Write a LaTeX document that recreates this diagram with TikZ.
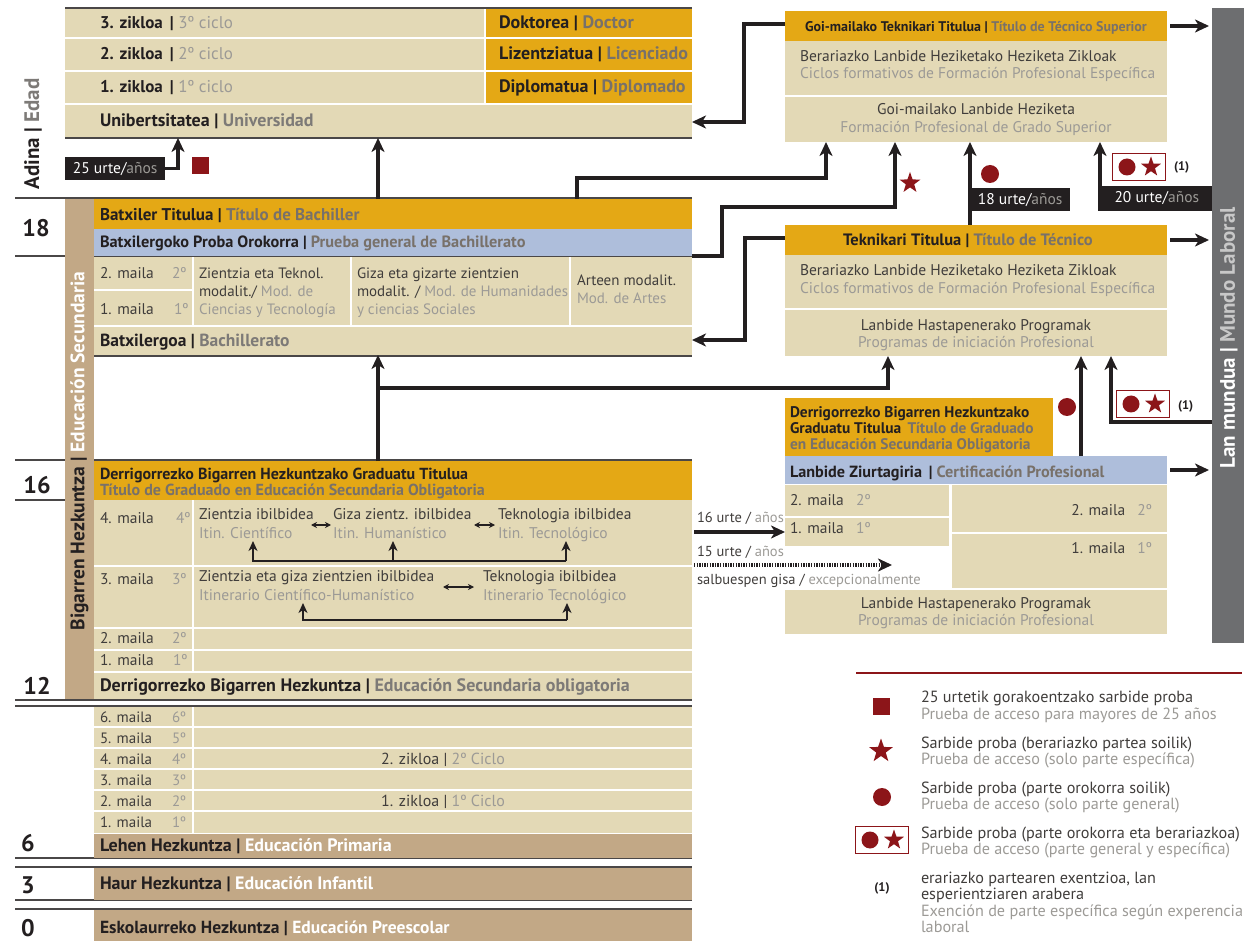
\documentclass[tikz,border=0pt]{standalone}
\usepackage{fontspec}
\setmainfont{PT Sans}
\usetikzlibrary{arrows.meta,fit,shapes.geometric}
\definecolor{tanc}{HTML}{E3D9B6}
\definecolor{goldc}{HTML}{E4A815}
\definecolor{bluec}{HTML}{AEBEDB}
\definecolor{brownc}{HTML}{C2A886}
\definecolor{darkc}{HTML}{231F20}
\definecolor{textc}{HTML}{403D3B}
\definecolor{greyt}{HTML}{9C9A96}
\definecolor{greyb}{HTML}{7D7A77}
\definecolor{goldgrey}{HTML}{78716A}
\definecolor{redc}{HTML}{8C1519}
\definecolor{barc}{HTML}{6D6E70}
\definecolor{barlight}{HTML}{C8C8C8}
\definecolor{linec}{HTML}{4A4747}
\newcommand\esg[1]{\textcolor{greyt}{#1}}
\newcommand\esgb[1]{\textcolor{greyb}{#1}}
\newcommand\esgo[1]{\textcolor{goldgrey}{#1}}
\newcommand\blk[6]{\node[inner sep=0pt, outer sep=0pt, fill=#6, fit={(#2,#3) (#4,#5)}] (#1) {};}
\begin{document}
\begin{tikzpicture}[x=1pt, y=-1pt,
 tx/.style={anchor=west, inner sep=0pt, outer sep=0pt, text height=10.8pt, text depth=0pt, font=\fontsize{15.5}{17}\selectfont, text=textc},
 bx/.style={tx, font=\fontsize{16}{18}\selectfont\bfseries, text=darkc, text height=11.2pt},
 sz/.style={font=\fontsize{#1}{#1}\selectfont},
 bsz/.style={font=\fontsize{#1}{#1}\selectfont\bfseries},
 sx/.style={tx, font=\fontsize{14.5}{16}\selectfont, text height=10pt},
 px/.style={tx, font=\fontsize{15}{16}\selectfont, text height=10.5pt},
 num/.style={inner sep=0pt, font=\fontsize{24}{25}\selectfont\bfseries, text=darkc},
 dl/.style={draw=linec, line width=1.4pt},
 wl/.style={draw=white, line width=2pt},
 conn/.style={draw=darkc, line width=3.2pt, -{Stealth[length=14pt,width=13pt,inset=4pt]}},
 conns/.style={draw=darkc, line width=2pt, -{Stealth[length=10pt,width=9pt,inset=3pt]}},
 dbl/.style={draw=darkc, line width=1.6pt, {Stealth[length=6pt,width=6pt]}-{Stealth[length=6pt,width=6pt]}},
 dotconn/.style={draw=darkc, line width=3.5pt, dash pattern=on 1.3pt off 1.3pt, -{Stealth[length=14pt,width=13pt,inset=4pt]}},
 blackbox/.style={fill=darkc, inner sep=0pt, minimum height=23pt, font=\fontsize{15.5}{17}\selectfont, text=white},
 rdot/.style={circle, fill=redc, minimum size=18pt, inner sep=0pt},
 rstar/.style={star, star points=5, star point ratio=2.5, fill=redc, minimum size=22pt, inner sep=0pt},
 rsq/.style={fill=redc, minimum size=17pt, inner sep=0pt},
 rbox/.style={draw=redc, line width=1.2pt, fill=white, minimum width=53pt, minimum height=27pt, inner sep=0pt},
 vt/.style={rotate=90, inner sep=0pt, font=\fontsize{21}{22}\selectfont\bfseries},
 small1/.style={bx, font=\fontsize{12.5}{13}\selectfont\bfseries, text height=8.8pt},
 lgt/.style={tx, sz=16.2}
]
\useasboundingbox (0,0) rectangle (1254,941);

% ---------------- University
\blk{uni}{65}{8}{692}{138}{tanc}
\blk{unig}{485}{8}{692}{104}{goldc}
\draw[wl] (65,38)--(692,38) (65,71)--(692,71) (65,104)--(692,104) (485,8)--(485,104);
\draw[dl] (65,8)--(692,8) (65,138)--(692,138);
\node[tx, sz=17] (u3) at (100,23) {\textbf{\textcolor{darkc}{3. zikloa\, |}} \esg{3º ciclo}};
\node[tx, sz=17] (u2) at (100,54) {\textbf{\textcolor{darkc}{2. zikloa\, |}} \esg{2º ciclo}};
\node[tx, sz=17] (u1) at (100,87) {\textbf{\textcolor{darkc}{1. zikloa\, |}} \esg{1º ciclo}};
\node[bx, bsz=18] (u0) at (100,121) {Unibertsitatea | \esgb{Universidad}};
\node[bx, bsz=18] (dok) at (499,23) {Doktorea | \esgo{Doctor}};
\node[bx, bsz=18] (liz) at (499,54) {Lizentziatua | \esgo{Licenciado}};
\node[bx, bsz=18] (dip) at (499,87) {Diplomatua | \esgo{Diplomado}};

\node[vt, text=darkc] (adina) at (33,134) {Adina | \textcolor{greyb}{Edad}};
\node[blackbox, minimum width=100pt, anchor=north west] (b25) at (65,157) {25 urte/\esg{años}};
\draw[conn] (b25.east) -| ([xshift=113pt]uni.south west);
\node[rsq] (sq25) at (200,166) {};

% ---------------- left rules and ages
\draw[dl] (15,198)--(692,198) (15,256)--(692,256) (94,356)--(692,356)
 (15,460)--(692,460) (15,500)--(65,500) (15,700)--(692,700) (15,706)--(692,706)
 (15,858)--(692,858) (15,867)--(692,867) (15,900)--(692,900) (15,909)--(692,909);
\node[num] (n18) at (36,228) {18};
\node[num] (n16) at (37,485) {16};
\node[num] (n12) at (37,686) {12};
\node[num] (n6) at (28,843) {6};
\node[num] (n3) at (28,885) {3};
\node[num] (n0) at (28,928) {0};

% ---------------- Bachillerato
\blk{sbar}{65}{199}{94}{699}{brownc}
\node[vt, font=\fontsize{19.5}{20}\selectfont\bfseries, text=darkc] (sbart) at (79.5,451) {Bigarren Hezkuntza | \textcolor{white}{Educación Secundaria}};
\blk{batt}{94}{199}{692}{229}{goldc}
\blk{batp}{94}{229}{692}{256}{bluec}
\blk{batm}{94}{257}{692}{355}{tanc}
\draw[wl] (94,290)--(193,290) (94,326)--(692,326) (193,257)--(193,326) (351,257)--(351,326) (570,257)--(570,326);
\node[bx, bsz=17] (bt1) at (100,215) {Batxiler Titulua | \esgo{Título de Bachiller}};
\node[bx, bsz=16.3] (bt2) at (100,242) {Batxilergoko Proba Orokorra | \esgo{Prueba general de Bachillerato}};
\node[tx] (bm2) at (100,273) {2. maila};
\node[tx] (bm2b) at (172,273) {\esg{2º}};
\node[tx] (bm1) at (100,309) {1. maila};
\node[tx] (bm1b) at (174,309) {\esg{1º}};
\node[tx, sz=15] (zt1) at (199,273) {Zientzia eta Teknol.};
\node[tx, sz=15] (zt2) at (199,291) {modalit./ \esg{Mod. de}};
\node[tx, sz=15] (zt3) at (199,309) {\esg{Ciencias y Tecnología}};
\node[tx, sz=15] (gz1) at (357,273) {Giza eta gizarte zientzien};
\node[tx, sz=15] (gz2) at (357,291) {modalit. / \esg{Mod. de Humanidades}};
\node[tx, sz=15] (gz3) at (357,309) {\esg{y ciencias Sociales}};
\node[tx, sz=15] (ar1) at (577,280) {Arteen modalit.};
\node[tx, sz=15] (ar2) at (577,298) {\esg{Mod. de Artes}};
\node[bx, bsz=17.5] (bx1) at (100,341) {Batxilergoa | \esgb{Bachillerato}};
\draw[conn] ([xshift=284pt]batt.north west) -- ([xshift=313pt]uni.south west);

% ---------------- Lan mundua bar
\node[inner sep=0pt, outer sep=0pt, fill=barc, fit={(1212,8) (1244,643)}] (bar) {};
\node[vt, text=white] (bart) at (1229,338) {Lan mundua | \textcolor{barlight}{Mundo Laboral}};

% ---------------- Goi-mailako
\blk{goit}{785}{11}{1167}{41}{goldc}
\blk{goib}{785}{41}{1167}{142}{tanc}
\draw[wl] (785,96)--(1167,96);
\node[bx, anchor=center, bsz=14] (g1) at (976,26) {Goi-mailako Teknikari Titulua | \esgo{Título de Técnico Superior}};
\node[tx] (g2) at (800,56) {Berariazko Lanbide Heziketako Heziketa Zikloak};
\node[tx] (g3) at (800,73) {\esg{Ciclos formativos de Formación Profesional Específica}};
\node[tx, anchor=center] (g4) at (976,109) {Goi-mailako Lanbide Heziketa};
\node[tx, anchor=center] (g5) at (976,127) {\esg{Formación Profesional de Grado Superior}};
\draw[conn, shorten <=3pt, shorten >=3pt] (goit.east) -- (goit.east -| bar.west);
\draw[conn] ([yshift=2pt]goit.west) -- ++(-41,0) |- ([yshift=16pt]uni.south east);

% ---------------- Teknikari
\blk{tekt}{785}{225}{1167}{255}{goldc}
\blk{tekb}{785}{255}{1167}{356}{tanc}
\draw[wl] (785,309)--(1167,309);
\node[bx, anchor=center, bsz=16.5] (t1) at (968,240) {Teknikari Titulua | \esgo{Título de Técnico}};
\node[tx] (t2) at (800,270) {Berariazko Lanbide Heziketako Heziketa Zikloak};
\node[tx] (t3) at (800,288) {\esg{Ciclos formativos de Formación Profesional Específica}};
\node[tx, anchor=center] (t4) at (976,325) {Lanbide Hastapenerako Programak};
\node[tx, anchor=center] (t5) at (976,342) {\esg{Programas de iniciación Profesional}};
\draw[conn, shorten <=3pt, shorten >=3pt] (tekt.east) -- (tekt.east -| bar.west);
\draw[conn] ([yshift=2pt]tekt.west) -- ++(-40,0) |- ([yshift=15pt]batm.south east);

% connectors into Goi-mailako
\draw[conn] ([xshift=483pt]batt.north west) -- ++(0,-21) -| ([xshift=41pt]goib.south west);
\draw[conn] (batp.south east) -- ++(30,0) -- ++(0,-49) -| ([xshift=110pt]goib.south west);
\node[rstar] (st1) at (910,183) {};
\node[blackbox, minimum width=100pt, anchor=north west] (b18) at (970,188) {18 urte/\esg{años}};
\draw[conn] ([xshift=185pt]tekt.north west) -- ([xshift=185pt]goib.south west);
\node[rdot] (d1) at (990,174) {};
\node[blackbox, minimum width=110pt, anchor=north east] (b20) at (1212,186) {20 urte/\esg{años}};
\draw[conn] (bar.west |- b20.south) -| ([xshift=315pt]goib.south west);
\node[rbox] (cs1) at (1139,167) {};
\node[rdot, minimum size=17pt] (cs1a) at ([xshift=-12pt]cs1.center) {};
\node[rstar, minimum size=21pt] (cs1b) at ([xshift=12pt]cs1.center) {};
\node[small1] (one1) at (1174,166) {(1)};

% ---------------- ESO
\blk{esot}{94}{461}{692}{500}{goldc}
\blk{esob}{94}{500}{692}{699}{tanc}
\draw[wl] (94,566)--(692,566) (94,628)--(692,628) (94,650)--(692,650) (94,672)--(692,672) (193,500)--(193,672);
\node[bx] (e1) at (100,474) {Derrigorrezko Bigarren Hezkuntzako Graduatu Titulua};
\node[bx] (e2) at (100,490) {\esgo{Título de Graduado en Educación Secundaria Obligatoria}};
\node[tx] (m4) at (100,518) {4. maila};
\node[tx] (m4b) at (176,518) {\esg{4º}};
\node[tx] (zi1) at (199,514) {Zientzia ibilbidea};
\node[tx] (zi2) at (199,533) {\esg{Itin. Científico}};
\node[tx] (gi1) at (333,514) {Giza zientz. ibilbidea};
\node[tx] (gi2) at (333,533) {\esg{Itin. Humanístico}};
\node[tx] (ti1) at (498,514) {Teknologia ibilbidea};
\node[tx] (ti2) at (498,533) {\esg{Itin. Tecnológico}};
\coordinate (da1) at (311,525); \coordinate (da2) at (331,525);
\coordinate (da3) at (474,525); \coordinate (da4) at (495,525);
\draw[dbl] (da1) -- (da2);
\draw[dbl] (da3) -- (da4);
\coordinate (h1) at (253,561); \coordinate (h2) at (393,561); \coordinate (h3) at (566,561);
\draw[conns] (h3) -- (h1) -- ([yshift=20pt]h1);
\draw[conns] (h2) -- ([yshift=20pt]h2);
\draw[conns] (h3) -- ([yshift=20pt]h3);
\node[tx] (m3) at (100,579) {3. maila};
\node[tx] (m3b) at (172,579) {\esg{3º}};
\node[tx] (zg1) at (199,576) {Zientzia eta giza zientzien ibilbidea};
\node[tx] (zg2) at (199,595) {\esg{Itinerario Científico-Humanístico}};
\node[tx] (tk1) at (483,576) {Teknologia ibilbidea};
\node[tx] (tk2) at (483,595) {\esg{Itinerario Tecnológico}};
\coordinate (da5) at (443,587); \coordinate (da6) at (474,587);
\draw[dbl] (da5) -- (da6);
\coordinate (h4) at (303,620); \coordinate (h5) at (567,620);
\draw[conns] (h5) -- (h4) -- ([yshift=17pt]h4);
\draw[conns] (h5) -- ([yshift=17pt]h5);
\node[tx] (m2) at (100,638) {2. maila};
\node[tx] (m2b) at (172,638) {\esg{2º}};
\node[tx] (m1) at (100,660) {1. maila};
\node[tx] (m1b) at (173,660) {\esg{1º}};
\node[bx, bsz=18] (e3) at (100,686) {Derrigorrezko Bigarren Hezkuntza | \esgb{Educación Secundaria obligatoria}};

% ---------------- ESO -> Bachillerato / Teknikari
\draw[conn] ([xshift=284pt]esot.north west) -- ([xshift=284pt]batm.south west);
\coordinate (br) at (378,388);
\draw[conn] (br) -| ([xshift=103pt]tekb.south west);

% ---------------- right lower
\blk{dgt}{785}{398}{1053}{456}{goldc}
\node[bx, bsz=15.4] (dg1) at (790,412) {Derrigorrezko Bigarren Hezkuntzako};
\node[bx, bsz=15.4] (dg2) at (790,428) {Graduatu Titulua\, \esgo{Título de Graduado}};
\node[bx, bsz=15.4] (dg3) at (790,444) {\esgo{en Educación Secundaria Obligatoria}};
\blk{lzt}{785}{456}{1167}{484}{bluec}
\node[bx, bsz=16.2] (lz) at (790,472) {Lanbide Ziurtagiria\, | \esgo{Certificación Profesional}};
\draw[conn, shorten <=3pt, shorten >=3pt] (lzt.east) -- (lzt.east -| bar.west);
\blk{lz2}{785}{485}{949}{516}{tanc}
\blk{lz1}{785}{518}{949}{546}{tanc}
\blk{lr2}{952}{485}{1167}{532}{tanc}
\blk{lr1}{952}{534}{1167}{588}{tanc}
\blk{lhp}{785}{590}{1167}{634}{tanc}
\node[tx] (l2a) at (790,500) {2. maila \hspace{8pt}\esg{2º}};
\node[tx] (l1a) at (790,528) {1. maila \hspace{8pt}\esg{1º}};
\node[tx, anchor=east] (r2a) at (1152,510) {2. maila \hspace{8pt}\esg{2º}};
\node[tx, anchor=east] (r1a) at (1152,548) {1. maila \hspace{8pt}\esg{1º}};
\node[tx, anchor=center] (lh1) at (976,603) {Lanbide Hastapenerako Programak};
\node[tx, anchor=center] (lh2) at (976,620) {\esg{Programas de iniciación Profesional}};
\draw[conn] ([xshift=296pt]lzt.north west) -- ([xshift=296pt]tekb.south west);
\node[rdot] (d2) at (1067,407) {};
\coordinate (l2s) at (1212,422);
\draw[conn] (l2s) -| ([xshift=326pt]tekb.south west);
\node[rbox] (cs2) at (1143,404) {};
\node[rdot, minimum size=17pt] (cs2a) at ([xshift=-12pt]cs2.center) {};
\node[rstar, minimum size=21pt] (cs2b) at ([xshift=12pt]cs2.center) {};
\node[small1] (one2) at (1178,405) {(1)};

\node[sx] (u16) at (697,517) {16 urte / \esg{años}};
\coordinate (c16) at (694,532);
\draw[conn] (c16) -- (lz1.west);
\node[sx] (u15) at (697,551) {15 urte / \esg{años}};
\coordinate (c15) at (694,565);
\coordinate (c15e) at (892,565);
\draw[dotconn] (c15) -- (c15e);
\node[sx] (salb) at (697,579) {salbuespen gisa / \esg{excepcionalmente}};

% ---------------- Primary
\blk{prim}{94}{707}{692}{833}{tanc}
\draw[wl] (94,727)--(692,727) (94,748)--(692,748) (94,769)--(692,769) (94,790)--(692,790) (94,811)--(692,811) (193,707)--(193,833);
\node[px] (p6) at (100,717) {6. maila}; \node[px] (p6b) at (172,717) {\esg{6º}};
\node[px] (p5) at (100,738) {5. maila}; \node[px] (p5b) at (172,738) {\esg{5º}};
\node[px] (p4) at (100,759) {4. maila}; \node[px] (p4b) at (172,759) {\esg{4º}};
\node[px] (p3) at (100,780) {3. maila}; \node[px] (p3b) at (172,780) {\esg{3º}};
\node[px] (p2) at (100,801) {2. maila}; \node[px] (p2b) at (172,801) {\esg{2º}};
\node[px] (p1) at (100,822) {1. maila}; \node[px] (p1b) at (172,822) {\esg{1º}};
\node[px, anchor=center, sz=16] (z2) at (443,759) {2. zikloa | \esg{2º Ciclo}};
\node[px, anchor=center, sz=16] (z1) at (443,801) {1. zikloa | \esg{1º Ciclo}};
\blk{leh}{94}{834}{692}{858}{brownc}
\blk{haur}{94}{868}{692}{900}{brownc}
\blk{esk}{94}{910}{692}{941}{brownc}
\node[bx, bsz=18] (lh) at (100,846) {Lehen Hezkuntza | \textcolor{white}{Educación Primaria}};
\node[bx, bsz=18] (hh) at (100,884) {Haur Hezkuntza | \textcolor{white}{Educación Infantil}};
\node[bx, bsz=17.5] (eh) at (100,928) {Eskolaurreko Hezkuntza | \textcolor{white}{Educación Preescolar}};

% ---------------- Legend
\draw[draw=redc, line width=1.8pt] (856,673) -- (1242,673);
\node[rsq] (lg1) at (881,706) {};
\node[lgt] (lg1a) at (921,697) {25 urtetik gorakoentzako sarbide proba};
\node[lgt] (lg1b) at (921,714) {\esg{Prueba de acceso para mayores de 25 años}};
\node[rstar, minimum size=25pt] (lg2) at (881,751) {};
\node[lgt] (lg2a) at (921,743) {Sarbide proba (berariazko partea soilik)};
\node[lgt] (lg2b) at (921,759) {\esg{Prueba de acceso (solo parte específica)}};
\node[rdot] (lg3) at (882,797) {};
\node[lgt] (lg3a) at (921,788) {Sarbide proba (parte orokorra soilik)};
\node[lgt] (lg3b) at (921,804) {\esg{Prueba de acceso (solo parte general)}};
\node[rbox] (lg4) at (882,840) {};
\node[rdot, minimum size=17pt] (lg4a) at ([xshift=-12pt]lg4.center) {};
\node[rstar, minimum size=21pt] (lg4b) at ([xshift=12pt]lg4.center) {};
\node[lgt] (lg4c) at (921,833) {Sarbide proba (parte orokorra eta berariazkoa)};
\node[lgt] (lg4d) at (921,849) {\esg{Prueba de acceso (parte general y específica)}};
\node[small1, anchor=center] (lg5) at (882,887) {(1)};
\node[lgt] (lg5a) at (921,878) {erariazko partearen exentzioa, lan};
\node[lgt] (lg5b) at (921,894) {esperientziaren arabera};
\node[lgt] (lg5c) at (921,911) {\esg{Exención de parte específica según experencia}};
\node[lgt] (lg5d) at (921,927) {\esg{laboral}};
\end{tikzpicture}
\end{document}
